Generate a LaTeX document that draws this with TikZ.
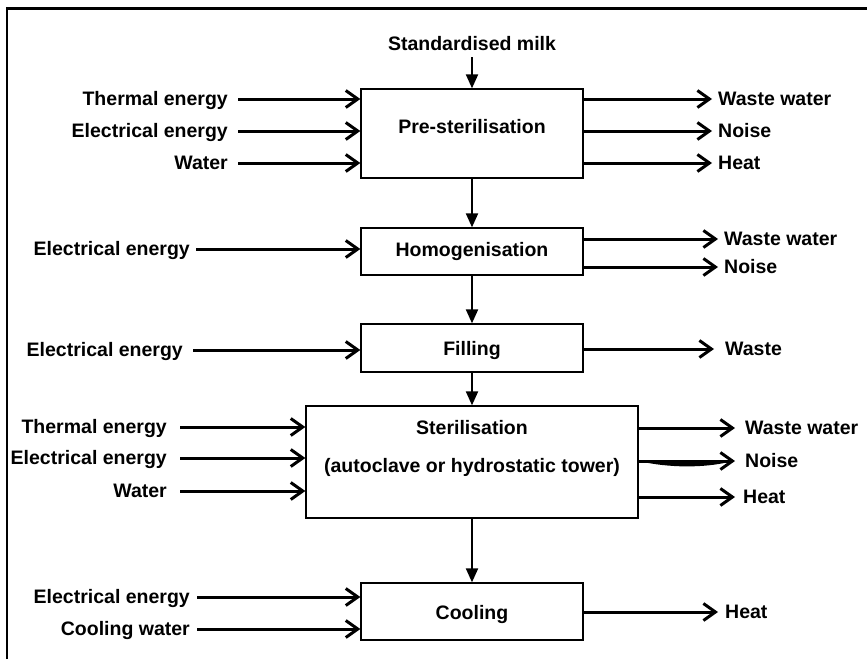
\documentclass[tikz,border=0pt]{standalone}
\usepackage{fontspec}
\setmainfont{Liberation Sans}
\usetikzlibrary{arrows.meta,calc}
\begin{document}
\begin{tikzpicture}[x=1pt,y=-1pt,
  txt/.style={inner sep=0pt, text height=13.5pt, text depth=0pt,
              font=\fontsize{19.5}{23}\selectfont\bfseries},
  box/.style={draw, line width=1.3pt, inner sep=0pt},
  flow/.style={line width=3pt, -{Straight Barb[length=12pt,width=17pt]}},
  down/.style={line width=2pt, -{Triangle[length=14pt,width=12pt]}},
  frameline/.style={line width=2.2pt}
]
\useasboundingbox (0,0) rectangle (867,659);
% open frame (top and left edges)
\draw[frameline] (7,659) -- (7,8.5) -- (867,8.5);

% ---------- Pre-sterilisation ----------
\node[txt] (milk) at (472,44) {Standardised milk};
\node[box, minimum width=222pt, minimum height=89pt] (ps) at (472,133.5) {};
\node[txt] (pst) at (472,127) {Pre-sterilisation};
\node[txt, anchor=east] (pi1) at (228,99) {Thermal energy};
\node[txt, anchor=east] (pi2) at (228,131) {Electrical energy};
\node[txt, anchor=east] (pi3) at (228,163) {Water};
\node[txt, anchor=west] (po1) at (718,99) {Waste water};
\node[txt, anchor=west] (po2) at (718,131) {Noise};
\node[txt, anchor=west] (po3) at (718,163) {Heat};
\draw[down] ([yshift=-6.5pt]milk.south) -- (ps.north);
\foreach \n in {pi1,pi2,pi3}
  \draw[flow] ([xshift=10pt]\n.east) -- (\n.east -| ps.west);
\foreach \n in {po1,po2,po3}
  \draw[flow] (ps.east |- \n.west) -- ([xshift=-6pt]\n.west);

% ---------- Homogenisation ----------
\node[box, minimum width=222pt, minimum height=47pt] (hg) at (472,251.5) {};
\node[txt] (hgt) at (472,250) {Homogenisation};
\node[txt, anchor=east] (hi1) at (190,249) {Electrical energy};
\node[txt, anchor=west] (ho1) at (724,239) {Waste water};
\node[txt, anchor=west] (ho2) at (724,267) {Noise};
\draw[down] (ps.south) -- (hg.north);
\draw[flow] ([xshift=6pt]hi1.east) -- (hi1.east -| hg.west);
\foreach \n in {ho1,ho2}
  \draw[flow] (hg.east |- \n.west) -- ([xshift=-6pt]\n.west);

% ---------- Filling ----------
\node[box, minimum width=222pt, minimum height=48pt] (fl) at (472,348) {};
\node[txt] (flt) at (472,349) {Filling};
\node[txt, anchor=east] (fi1) at (183,350) {Electrical energy};
\node[txt, anchor=west] (fo1) at (725,349) {Waste};
\draw[down] (hg.south) -- (fl.north);
\draw[flow] ([xshift=10pt]fi1.east) -- (fi1.east -| fl.west);
\draw[flow] (fl.east |- fo1.west) -- ([xshift=-11pt]fo1.west);

% ---------- Sterilisation ----------
\node[box, minimum width=332pt, minimum height=112pt] (st) at (472,462) {};
\node[txt] (stt1) at (472,428) {Sterilisation};
\node[txt] (stt2) at (472,466) {(autoclave or hydrostatic tower)};
\node[txt, anchor=east] (si1) at (167,427) {Thermal energy};
\node[txt, anchor=east] (si2) at (167,458) {Electrical energy};
\node[txt, anchor=east] (si3) at (167,491) {Water};
\node[txt, anchor=west] (so1) at (745,428) {Waste water};
\node[txt, anchor=west] (so2) at (745,461) {Noise};
\node[txt, anchor=west] (so3) at (743,497) {Heat};
\draw[down] (fl.south) -- (st.north);
\foreach \n in {si1,si2,si3}
  \draw[flow] ([xshift=13pt]\n.east) -- (\n.east -| st.west);
\draw[flow] (st.east |- so1.west) -- ([xshift=-10pt]so1.west);
\draw[flow] (st.east |- so2.west) -- ([xshift=-10pt]so2.west);
\draw[flow] (st.east |- so3.west) -- ([xshift=-8pt]so3.west);
% thickened swoosh under the noise line
\coordinate (nz) at (st.east |- so2.west);
\fill (nz) .. controls ($(nz)+(30,7)$) and ($(nz)+(65,7)$) .. ($(nz)+(90,1)$) -- cycle;

% ---------- Cooling ----------
\node[box, minimum width=222pt, minimum height=57pt] (cl) at (472,611.5) {};
\node[txt] (clt) at (472,613) {Cooling};
\node[txt, anchor=east] (ci1) at (190,597) {Electrical energy};
\node[txt, anchor=east] (ci2) at (190,629) {Cooling water};
\node[txt, anchor=west] (co1) at (725,612) {Heat};
\draw[down] (st.south) -- (cl.north);
\foreach \n in {ci1,ci2}
  \draw[flow] ([xshift=7pt]\n.east) -- (\n.east -| cl.west);
\draw[flow] (cl.east |- co1.west) -- ([xshift=-7pt]co1.west);
\end{tikzpicture}
\end{document}
